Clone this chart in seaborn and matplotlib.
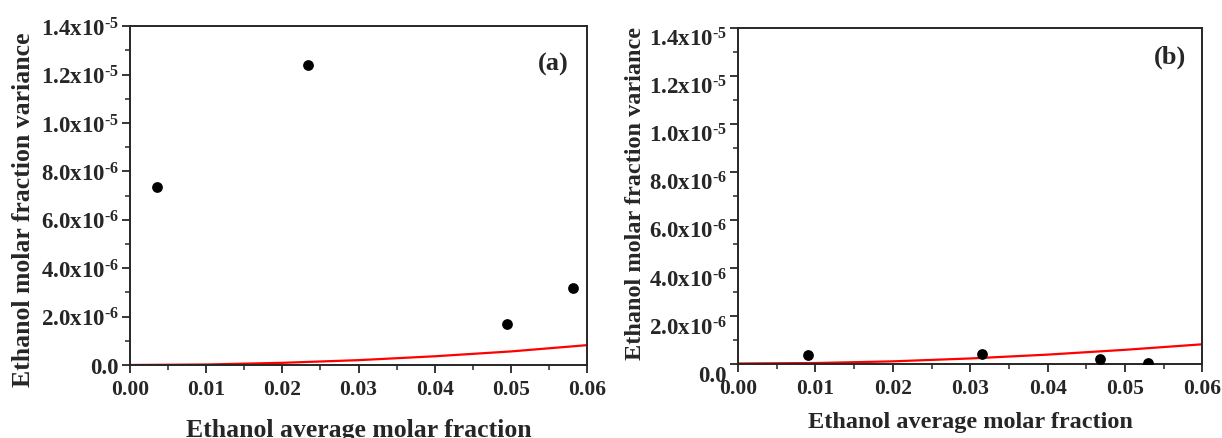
import matplotlib
matplotlib.use("Agg")
import matplotlib.pyplot as plt
import matplotlib.transforms as mtransforms
from matplotlib.ticker import MultipleLocator, FixedLocator
import seaborn as sns

# Panel (a) measured points
a_x = [0.0035, 0.0233, 0.0495, 0.0582]
a_var = [7.35e-6, 1.24e-5, 1.7e-6, 3.2e-6]

# Panel (b) measured points
b_x = [0.0090, 0.0315, 0.0468, 0.0530]
b_var = [0.38e-6, 0.42e-6, 0.20e-6, 0.05e-6]

# red reference curve
curve_x = [0.0, 0.01, 0.02, 0.03, 0.04, 0.05, 0.06]
curve_a = [0.0, 0.02e-6, 0.09e-6, 0.20e-6, 0.36e-6, 0.56e-6, 0.82e-6]
curve_b = [0.02e-6, 0.04e-6, 0.11e-6, 0.23e-6, 0.39e-6, 0.59e-6, 0.82e-6]

y_ticks = [0.0, 2e-6, 4e-6, 6e-6, 8e-6, 1.0e-5, 1.2e-5, 1.4e-5]
y_ticklabels = ["0.0",
                r"2.0x10$^{\text{-6}}$", r"4.0x10$^{\text{-6}}$",
                r"6.0x10$^{\text{-6}}$", r"8.0x10$^{\text{-6}}$",
                r"1.0x10$^{\text{-5}}$", r"1.2x10$^{\text{-5}}$",
                r"1.4x10$^{\text{-5}}$"]
x_ticks = [0.00, 0.01, 0.02, 0.03, 0.04, 0.05, 0.06]
x_ticklabels = ["0.00", "0.01", "0.02", "0.03", "0.04", "0.05", "0.06"]

sns.set_style("ticks")
plt.rcParams["font.family"] = ["Liberation Serif", "DejaVu Serif"]
plt.rcParams["font.weight"] = "bold"
plt.rcParams["mathtext.fontset"] = "custom"
plt.rcParams["mathtext.rm"] = "Liberation Serif:bold"
plt.rcParams["mathtext.it"] = "Liberation Serif:bold"
plt.rcParams["mathtext.bf"] = "Liberation Serif:bold"
plt.rcParams["mathtext.default"] = "rm"

fig = plt.figure(figsize=(12.22, 4.39), dpi=100)
ax_a = fig.add_axes([0.1064, 0.1663, 0.374, 0.772])
ax_b = fig.add_axes([0.604, 0.1686, 0.380, 0.766])

# ax, x, y, curve, tag, label size, tag pos, xlabel y, ylabel (x, y)
panels = [
    (ax_a, a_x, a_var, curve_a, "(a)", 18.5, (0.925, 0.89), -0.19, (-0.234, 0.46)),
    (ax_b, b_x, b_var, curve_b, "(b)", 17.5, (0.93, 0.915), -0.17, (-0.22, 0.51)),
]

for ax, px, py, cy, tag, lab_fs, tag_pos, xl_y, yl_pos in panels:
    sns.lineplot(x=curve_x, y=cy, ax=ax, color="red", linewidth=1.6, zorder=2)
    sns.scatterplot(x=px, y=py, ax=ax, color="black", s=60, edgecolor="black",
                    linewidth=0, zorder=3)
    ax.set_xlim(0, 0.06)
    ax.set_ylim(0, 1.4e-5)
    ax.xaxis.set_major_locator(FixedLocator(x_ticks))
    ax.xaxis.set_minor_locator(MultipleLocator(0.005))
    ax.yaxis.set_major_locator(FixedLocator(y_ticks))
    ax.yaxis.set_minor_locator(MultipleLocator(1e-6))
    ax.set_xticklabels(x_ticklabels, fontsize=15.5, fontweight="bold")
    ax.set_yticklabels(y_ticklabels, fontsize=16.5, fontweight="bold")
    ax.tick_params(which="major", direction="out", length=6, width=1.3)
    ax.tick_params(which="minor", direction="out", length=3.5, width=1.1)
    ax.tick_params(axis="x", pad=4)
    ax.tick_params(axis="y", pad=2)
    for sp in ax.spines.values():
        sp.set_linewidth(1.4)
        sp.set_visible(True)
    ax.set_xlabel("Ethanol average molar fraction", fontsize=lab_fs,
                  fontweight="bold", va="center")
    ax.xaxis.set_label_coords(0.5, xl_y)
    ax.set_ylabel("Ethanol molar fraction variance", fontsize=lab_fs,
                  fontweight="bold", va="center")
    ax.yaxis.set_label_coords(yl_pos[0], yl_pos[1])
    ax.text(tag_pos[0], tag_pos[1], tag, transform=ax.transAxes, ha="center",
            va="center", fontsize=19, fontweight="bold")

# panel (b) tick labels sit a little lower than their ticks
shift = mtransforms.ScaledTranslation(0, -6.5 / 72, fig.dpi_scale_trans)
for lab in ax_b.get_yticklabels():
    lab.set_transform(lab.get_transform() + shift)

fig.savefig("out.png", dpi=100)
